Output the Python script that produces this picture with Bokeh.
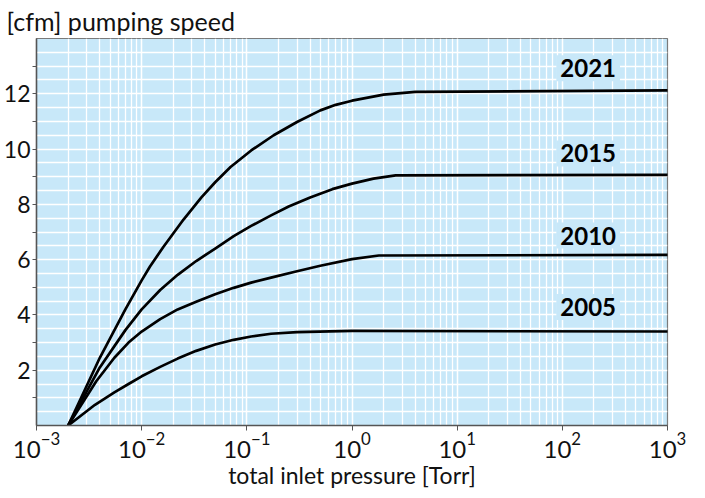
import numpy as np
from bokeh.plotting import figure
from bokeh.models import FixedTicker, SingleIntervalTicker, Label, Range1d
from bokeh.embed import file_html
from bokeh.resources import INLINE

# ---- data ----
years = ["2021", "2015", "2010", "2005"]

x_2021 = [0.002, 0.004, 0.007, 0.01, 0.012, 0.016, 0.025, 0.037, 0.05, 0.07, 0.11, 0.18, 0.3, 0.5, 0.7, 1.0, 2.0, 4.0, 1000]
y_2021 = [0.0, 2.45, 4.2, 5.25, 5.75, 6.45, 7.45, 8.25, 8.8, 9.35, 9.95, 10.5, 10.98, 11.4, 11.6, 11.75, 11.97, 12.07, 12.12]

x_2015 = [0.002, 0.004, 0.007, 0.01, 0.015, 0.022, 0.033, 0.05, 0.075, 0.11, 0.17, 0.25, 0.4, 0.65, 1.0, 1.6, 2.6, 1000]
y_2015 = [0.0, 2.1, 3.45, 4.2, 4.9, 5.45, 5.95, 6.4, 6.85, 7.22, 7.6, 7.92, 8.25, 8.55, 8.75, 8.93, 9.05, 9.07]

x_2010 = [0.002, 0.0037, 0.0055, 0.0075, 0.01, 0.015, 0.022, 0.033, 0.05, 0.075, 0.11, 0.17, 0.3, 0.5, 1.0, 1.8, 1000]
y_2010 = [0.0, 1.6, 2.45, 3.0, 3.4, 3.85, 4.2, 4.48, 4.75, 4.98, 5.17, 5.35, 5.58, 5.78, 6.02, 6.15, 6.17]

x_2005 = [0.002, 0.0036, 0.0055, 0.0075, 0.01, 0.015, 0.022, 0.033, 0.05, 0.075, 0.11, 0.17, 0.3, 1.0, 1000]
y_2005 = [0.0, 0.75, 1.2, 1.5, 1.78, 2.12, 2.42, 2.7, 2.93, 3.1, 3.22, 3.32, 3.38, 3.42, 3.4]

y_major_ticks = [2, 4, 6, 8, 10, 12]
y_minor_ticks = [1, 3, 5, 7, 9, 11, 13]

series_x = [x_2021, x_2015, x_2010, x_2005]
series_y = [y_2021, y_2015, y_2010, y_2005]

# label anchor positions (data coords)
label_x = 176
label_y = [12.92, 9.84, 6.87, 4.29]

BG = "#C8E8F9"
FONT = "Lato"

p = figure(frame_width=631, frame_height=387,
           x_axis_type="log", x_range=Range1d(1e-3, 1e3), y_range=Range1d(0, 14),
           output_backend="svg", toolbar_location=None,
           min_border_left=27, min_border_right=22, min_border_top=10, min_border_bottom=10)

p.background_fill_color = BG
p.border_fill_color = "white"
p.outline_line_color = "#7a7a7a"
p.outline_line_width = 1.2

# title
p.title.text = "[cfm] pumping speed"
p.title.text_font = FONT
p.title.text_font_size = "25px"
p.title.text_font_style = "normal"
p.title.text_color = "#111111"
p.title.align = "left"
p.title.offset = -30
p.title.standoff = 6

# grids
p.xgrid.grid_line_color = "white"
p.xgrid.grid_line_width = 1.3
p.xgrid.minor_grid_line_color = "white"
p.xgrid.minor_grid_line_width = 1.3
p.ygrid.ticker = SingleIntervalTicker(interval=0.5, num_minor_ticks=0)
p.ygrid.grid_line_color = "white"
p.ygrid.grid_line_width = 1.3

# axes
for ax in (p.xaxis[0], p.yaxis[0]):
    ax.axis_line_color = "#555555"
    ax.axis_line_width = 1.5
    ax.major_tick_line_color = "#555555"
    ax.minor_tick_line_color = "#555555"
    ax.major_tick_in = 0
    ax.minor_tick_in = 0
    ax.major_label_text_font = FONT
    ax.major_label_text_color = "#111111"

p.xaxis.major_label_text_font_size = "24px"
p.xaxis.major_tick_out = 5
p.xaxis.minor_tick_line_color = None
p.xaxis.major_label_standoff = 2
p.xaxis.axis_label = "total inlet pressure [Torr]"
p.xaxis.axis_label_text_font = FONT
p.xaxis.axis_label_text_font_size = "23px"
p.xaxis.axis_label_text_font_style = "normal"
p.xaxis.axis_label_text_color = "#111111"
p.xaxis.axis_label_standoff = 0

p.yaxis.ticker = FixedTicker(ticks=y_major_ticks, minor_ticks=y_minor_ticks)
p.yaxis.major_label_text_font_size = "23px"
p.yaxis.major_tick_out = 4
p.yaxis.minor_tick_out = 4
p.yaxis.major_label_standoff = 2

# curves
for xs, ys in zip(series_x, series_y):
    p.line(xs, ys, line_color="black", line_width=2.7, line_join="round", line_cap="round")

# labels
for yr, ly in zip(years, label_y):
    p.add_layout(Label(x=label_x, y=ly, text=yr, text_align="center", text_baseline="middle",
                       text_font=FONT, text_font_size="24px", text_font_style="bold",
                       text_color="black", background_fill_color=BG, padding=4))

open("out.html", "w").write(file_html(p, INLINE))
